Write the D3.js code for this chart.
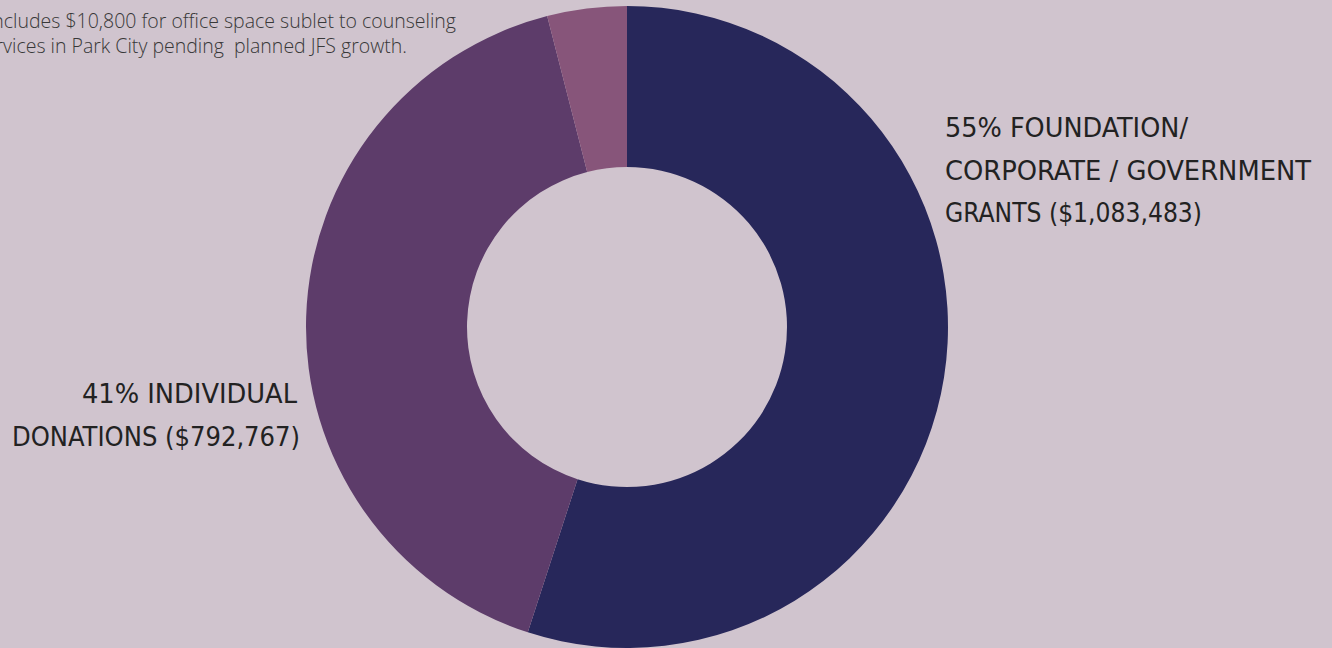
<!DOCTYPE html>
<html>
<head>
<meta charset="utf-8">
<script src="https://cdn.jsdelivr.net/npm/d3@7"></script>
<style>
  html, body { margin: 0; padding: 0; background: #D0C4CE; overflow: hidden; }
  svg { display: block; }
</style>
</head>
<body>
<svg id="chart" width="1332" height="648"></svg>
<script>
// ---- data ----
const categories = ["Foundation / Corporate / Government Grants", "Individual Donations", "Other"];
const shares = [55, 41, 4];
const colors = ["#27275A", "#5D3C6A", "#87557A"];
const rightLabel = ["55% FOUNDATION/", "CORPORATE / GOVERNMENT", "GRANTS ($1,083,483)"];
const leftLabel = ["41% INDIVIDUAL", "DONATIONS ($792,767)"];
const noteLines = ["*Includes $10,800 for office space sublet to counseling", "services in Park City pending  planned JFS growth."];

// ---- layout ----
const W = 1332, H = 648;
const cx = 627, cy = 327, outerR = 321, innerR = 160;

const svg = d3.select("#chart");
svg.append("rect").attr("width", W).attr("height", H).attr("fill", "#D0C4CE");

const pie = d3.pie().sort(null).value(d => d)(shares);
const arc = d3.arc().innerRadius(innerR).outerRadius(outerR);

svg.append("g").attr("transform", `translate(${cx},${cy})`)
  .selectAll("path").data(pie).join("path")
  .attr("d", arc)
  .attr("fill", (d, i) => colors[i]);

const labelFont = "'Liberation Sans Narrow', 'DejaVu Sans Condensed', 'Roboto Condensed', sans-serif";

// right label
const rWidths = [243, 366, 257];
const rBase = [137, 180, 222];
rightLabel.forEach((t, i) => {
  svg.append("text")
    .attr("x", 945).attr("y", rBase[i])
    .attr("font-family", labelFont).attr("font-size", 26)
    .attr("fill", "#222222")
    .attr("textLength", rWidths[i]).attr("lengthAdjust", "spacingAndGlyphs")
    .text(t);
});

// left label (right-aligned)
const lStart = [82, 12];
const lEnd = [297, 300];
const lBase = [403, 446];
leftLabel.forEach((t, i) => {
  svg.append("text")
    .attr("x", lStart[i]).attr("y", lBase[i])
    .attr("font-family", labelFont).attr("font-size", 26)
    .attr("fill", "#222222")
    .attr("textLength", lEnd[i] - lStart[i]).attr("lengthAdjust", "spacingAndGlyphs")
    .text(t);
});

// note (cut off at the left edge, as in the reference)
const nEnd = [456, 407];
const nBase = [28, 53];
noteLines.forEach((t, i) => {
  svg.append("text")
    .attr("x", nEnd[i]).attr("y", nBase[i])
    .attr("text-anchor", "end")
    .attr("font-family", "'Open Sans', sans-serif").attr("font-weight", 300)
    .attr("font-size", 19.5)
    .attr("fill", "#383838")
    .style("white-space", "pre")
    .text(t);
});
</script>
</body>
</html>
